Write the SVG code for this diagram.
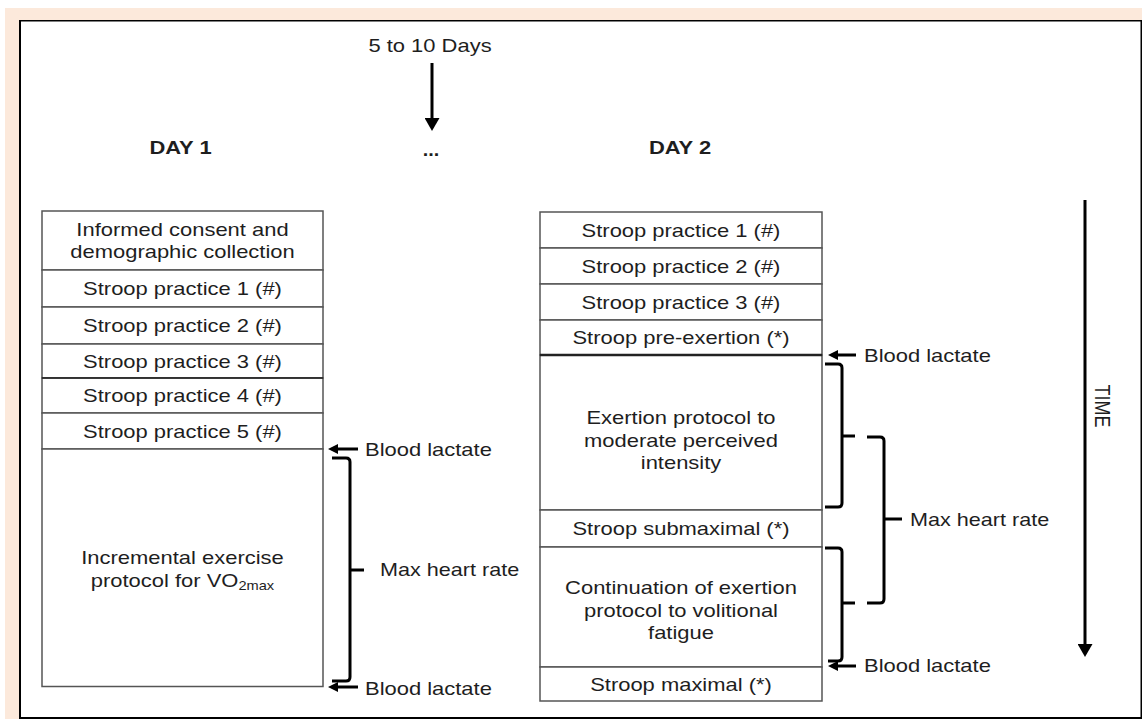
<svg xmlns="http://www.w3.org/2000/svg" width="1142" height="719" viewBox="0 0 1142 719">
<style>
.row { fill: #ffffff; stroke: #555555; stroke-width: 1.5; }
.t { font-family: "Liberation Sans", Arial, sans-serif; font-size: 18px; fill: #1e1e1e; text-anchor: middle; }
.ts { font-family: "Liberation Sans", Arial, sans-serif; font-size: 18px; fill: #1e1e1e; text-anchor: start; }
.b { font-weight: bold; }
.conn { fill: none; stroke: #000000; stroke-width: 3; }
.brk { fill: none; stroke: #000000; stroke-width: 3; stroke-linejoin: round; }
</style>
<defs>
<marker id="headS" markerUnits="userSpaceOnUse" viewBox="0 0 10 10" refX="5" refY="5" markerWidth="10" markerHeight="10" orient="auto" preserveAspectRatio="none">
<path d="M0,0 L10,5 L0,10 z" fill="#000"/>
</marker>
<marker id="headL" markerUnits="userSpaceOnUse" viewBox="0 0 10 10" refX="5" refY="5" markerWidth="13" markerHeight="15" orient="auto" preserveAspectRatio="none">
<path d="M0,0 L10,5 L0,10 z" fill="#000"/>
</marker>
</defs>
<rect x="0" y="0" width="1142" height="719" fill="#ffffff"/>
<rect x="5" y="8" width="1137" height="12" fill="#fce9db"/>
<rect x="5" y="8" width="14" height="711" fill="#fce9db"/>
<g id="frame" stroke="#000" fill="none">
<line x1="19" y1="20.75" x2="1142" y2="20.75" stroke-width="1.5"/>
<line x1="20" y1="20" x2="20" y2="719" stroke-width="2"/>
<line x1="19" y1="718" x2="1142" y2="718" stroke-width="2"/>
<line x1="1141.25" y1="20" x2="1141.25" y2="719" stroke-width="1.5"/>
</g>

<g id="headers">
<text class="t" transform="translate(430,52) scale(1.22,1)">5 to 10 Days</text>
<text class="t b" transform="translate(180.5,154) scale(1.22,1)">DAY 1</text>
<text class="t b" transform="translate(431,156) scale(1.1,1)">...</text>
<text class="t b" transform="translate(680,154) scale(1.22,1)">DAY 2</text>
<text class="t" transform="translate(1095,406) scale(1.2,1) rotate(90)">TIME</text>
</g>

<g id="day1">
<g id="d1-consent"><rect class="row" x="42" y="211" width="281" height="59"/>
<text class="t" transform="translate(182.5,236) scale(1.22,1)">Informed consent and</text>
<text class="t" transform="translate(182.5,258) scale(1.22,1)">demographic collection</text></g>
<g id="d1-sp1"><rect class="row" x="42" y="270" width="281" height="37"/>
<text class="t" transform="translate(182.5,295) scale(1.22,1)">Stroop practice 1 (#)</text></g>
<g id="d1-sp2"><rect class="row" x="42" y="307" width="281" height="37"/>
<text class="t" transform="translate(182.5,332) scale(1.22,1)">Stroop practice 2 (#)</text></g>
<g id="d1-sp3"><rect class="row" x="42" y="344" width="281" height="34"/>
<text class="t" transform="translate(182.5,367.5) scale(1.22,1)">Stroop practice 3 (#)</text></g>
<g id="d1-sp4"><rect class="row" x="42" y="378" width="281" height="35"/>
<text class="t" transform="translate(182.5,402) scale(1.22,1)">Stroop practice 4 (#)</text></g>
<g id="d1-sp5"><rect class="row" x="42" y="413" width="281" height="36"/>
<text class="t" transform="translate(182.5,437.5) scale(1.22,1)">Stroop practice 5 (#)</text></g>
<g id="d1-incremental"><rect class="row" x="42" y="449" width="281" height="237.5"/>
<text class="t" transform="translate(182.5,564) scale(1.22,1)">Incremental exercise</text>
<text class="t" transform="translate(182.5,587) scale(1.22,1)">protocol for VO<tspan font-size="12" dy="3">2max</tspan></text></g>
</g>
<line x1="42" y1="378" x2="323" y2="378" stroke="#222" stroke-width="1.5"/>

<g id="day2">
<g id="d2-sp1"><rect class="row" x="540" y="212" width="282" height="36"/>
<text class="t" transform="translate(681,236.5) scale(1.22,1)">Stroop practice 1 (#)</text></g>
<g id="d2-sp2"><rect class="row" x="540" y="248" width="282" height="36"/>
<text class="t" transform="translate(681,272.5) scale(1.22,1)">Stroop practice 2 (#)</text></g>
<g id="d2-sp3"><rect class="row" x="540" y="284" width="282" height="36"/>
<text class="t" transform="translate(681,308.5) scale(1.22,1)">Stroop practice 3 (#)</text></g>
<g id="d2-pre"><rect class="row" x="540" y="320" width="282" height="35"/>
<text class="t" transform="translate(681,344) scale(1.22,1)">Stroop pre-exertion (*)</text></g>
<g id="d2-exertion"><rect class="row" x="540" y="355" width="282" height="155"/>
<text class="t" transform="translate(681,424) scale(1.22,1)">Exertion protocol to</text>
<text class="t" transform="translate(681,446.5) scale(1.22,1)">moderate perceived</text>
<text class="t" transform="translate(681,469) scale(1.22,1)">intensity</text></g>
<g id="d2-submax"><rect class="row" x="540" y="510" width="282" height="37"/>
<text class="t" transform="translate(681,535) scale(1.22,1)">Stroop submaximal (*)</text></g>
<g id="d2-continuation"><rect class="row" x="540" y="547" width="282" height="120"/>
<text class="t" transform="translate(681,594) scale(1.22,1)">Continuation of exertion</text>
<text class="t" transform="translate(681,616.5) scale(1.22,1)">protocol to volitional</text>
<text class="t" transform="translate(681,639) scale(1.22,1)">fatigue</text></g>
<g id="d2-max"><rect class="row" x="540" y="667" width="282" height="34"/>
<text class="t" transform="translate(681,690.5) scale(1.22,1)">Stroop maximal (*)</text></g>
</g>
<line x1="540" y1="355" x2="822" y2="355" stroke="#222" stroke-width="2.5"/>

<g id="labels">
<text class="ts" transform="translate(365,456) scale(1.22,1)">Blood lactate</text>
<text class="ts" transform="translate(365,694.5) scale(1.22,1)">Blood lactate</text>
<text class="ts" transform="translate(380,576) scale(1.2,1)">Max heart rate</text>
<text class="ts" transform="translate(864,362) scale(1.22,1)">Blood lactate</text>
<text class="ts" transform="translate(864,672) scale(1.22,1)">Blood lactate</text>
<text class="ts" transform="translate(910,526) scale(1.2,1)">Max heart rate</text>
</g>

<g id="connectors">
<line class="conn" x1="432" y1="63" x2="432" y2="124.5" marker-end="url(#headL)"/>
<line class="conn" x1="1085" y1="200" x2="1085" y2="650.5" stroke-width="3.5" marker-end="url(#headL)"/>
<line class="conn" x1="358" y1="449" x2="333" y2="449" marker-end="url(#headS)"/>
<line class="conn" x1="358" y1="687" x2="333" y2="687" marker-end="url(#headS)"/>
<line class="conn" x1="856" y1="355" x2="833" y2="355" marker-end="url(#headS)"/>
<line class="conn" x1="856" y1="666" x2="833" y2="666" marker-end="url(#headS)"/>
<path class="brk" d="M332,458 H346 Q350,458 350,462 V677 Q350,681 346,681 H332 M350,570 H364"/>
<path class="brk" d="M825,364 H838 Q842,364 842,368 V503 Q842,507 838,507 H825 M842,436 H855"/>
<path class="brk" d="M825,548 H838 Q842,548 842,552 V657 Q842,661 838,661 H828 M842,603 H855"/>
<path class="brk" d="M867,437 H880 Q884,437 884,441 V599 Q884,603 880,603 H867 M884,519 H902"/>
</g>
</svg>
